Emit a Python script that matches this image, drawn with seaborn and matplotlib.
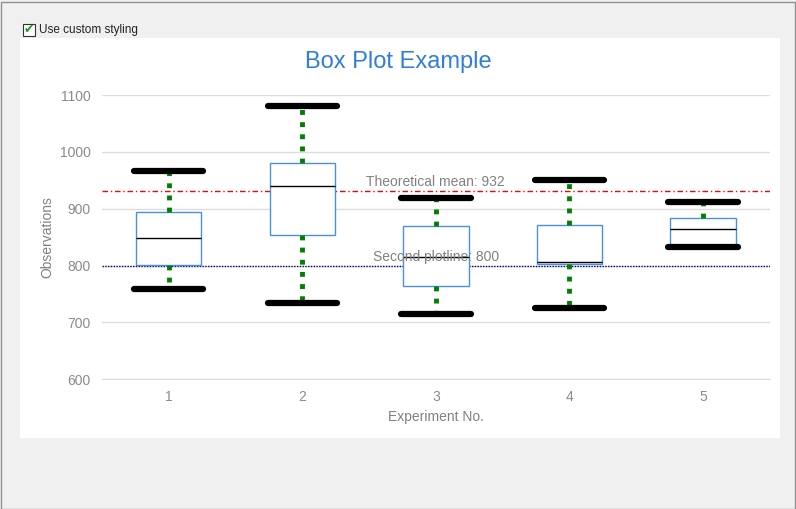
import matplotlib
matplotlib.use('Agg')
import matplotlib.pyplot as plt
import seaborn as sns
import pandas as pd
from matplotlib.patches import Rectangle

experiments = ['1', '2', '3', '4', '5']
lows = [758, 734, 714, 725, 833]
q1s = [801, 854, 764, 802, 837]
medians = [848, 940, 815, 806, 864]
q3s = [894, 980, 870, 871, 883]
highs = [966, 1081, 919, 950, 912]

rows = []
for i, e in enumerate(experiments):
    for v in (lows[i], q1s[i], medians[i], q3s[i], highs[i]):
        rows.append({'exp': e, 'obs': v})
df = pd.DataFrame(rows)

sns.set_style('white')
plt.rcParams['font.family'] = ['Liberation Sans', 'DejaVu Sans']
fig = plt.figure(figsize=(7.96, 5.09), dpi=100)
fig.patch.set_facecolor('#f0f0f0')
fig.patches.append(Rectangle((20/796, 1-438/509), 760/796, 400/509, transform=fig.transFigure,
                             facecolor='white', edgecolor='none', zorder=-5))
fig.patches.append(Rectangle((0.5/796, 0.5/509), 794/796, 507/509, transform=fig.transFigure,
                             facecolor='none', edgecolor='#909090', lw=1, zorder=-4))
fig.patches.append(Rectangle((23/796, 1-36/509), 12/796, 12/509, transform=fig.transFigure,
                             facecolor='white', edgecolor='#333333', lw=0.8, zorder=1))
fig.text(29/796, 1-30/509, '✔', color='#1a9a1a', fontsize=9, ha='center', va='center',
         family='DejaVu Sans')
fig.text(39/796, 1-30/509, 'Use custom styling', fontsize=8.5, va='center', color='#222222')

ax = fig.add_axes([0.128, 0.255, 0.839, 0.558])
ax.set_zorder(3)
ax.set_facecolor('white')
sns.boxplot(data=df, x='exp', y='obs', ax=ax, whis=(0, 100), width=0.49,
            boxprops=dict(facecolor='white', edgecolor='#4a90e2', linewidth=1),
            medianprops=dict(color='black', linewidth=1),
            whiskerprops=dict(color='#008000', linewidth=3.5, linestyle=(0, (1, 1.5))),
            capprops=dict(color='black', linewidth=4.5), capwidths=0.52, showfliers=False)

ax.axhline(932, color='red', lw=1, ls=(0, (4, 2, 1, 2)), zorder=1)
ax.axhline(800, color='#000060', lw=1, ls=(0, (1, 1)), zorder=1)
ax.text(2.0, 934, 'Theoretical mean: 932', color='#808080', fontsize=10, ha='center', va='bottom')
ax.text(2.0, 802, 'Second plotline: 800', color='#808080', fontsize=10, ha='center', va='bottom')

ax.set_ylim(600, 1100)
ax.set_xlim(-0.5, 4.5)
ax.set_yticks(range(600, 1101, 100))
ax.yaxis.grid(True, color='#dddddd', lw=1)
ax.set_axisbelow(True)
for s in ['top', 'right', 'left']:
    ax.spines[s].set_visible(False)
ax.spines['bottom'].set_color('#dddddd')
ax.tick_params(colors='#8a8a8a', labelsize=10, length=0, pad=8)
ax.set_xlabel('Experiment No.', color='#808080', fontsize=10)
ax.set_ylabel('Observations', color='#808080', fontsize=10)
fig.text(0.5, 1-62/509, 'Box Plot Example', color='#2f7ed8', fontsize=17, ha='center', va='center')

fig.savefig('out.png', dpi=100, facecolor=fig.get_facecolor())
